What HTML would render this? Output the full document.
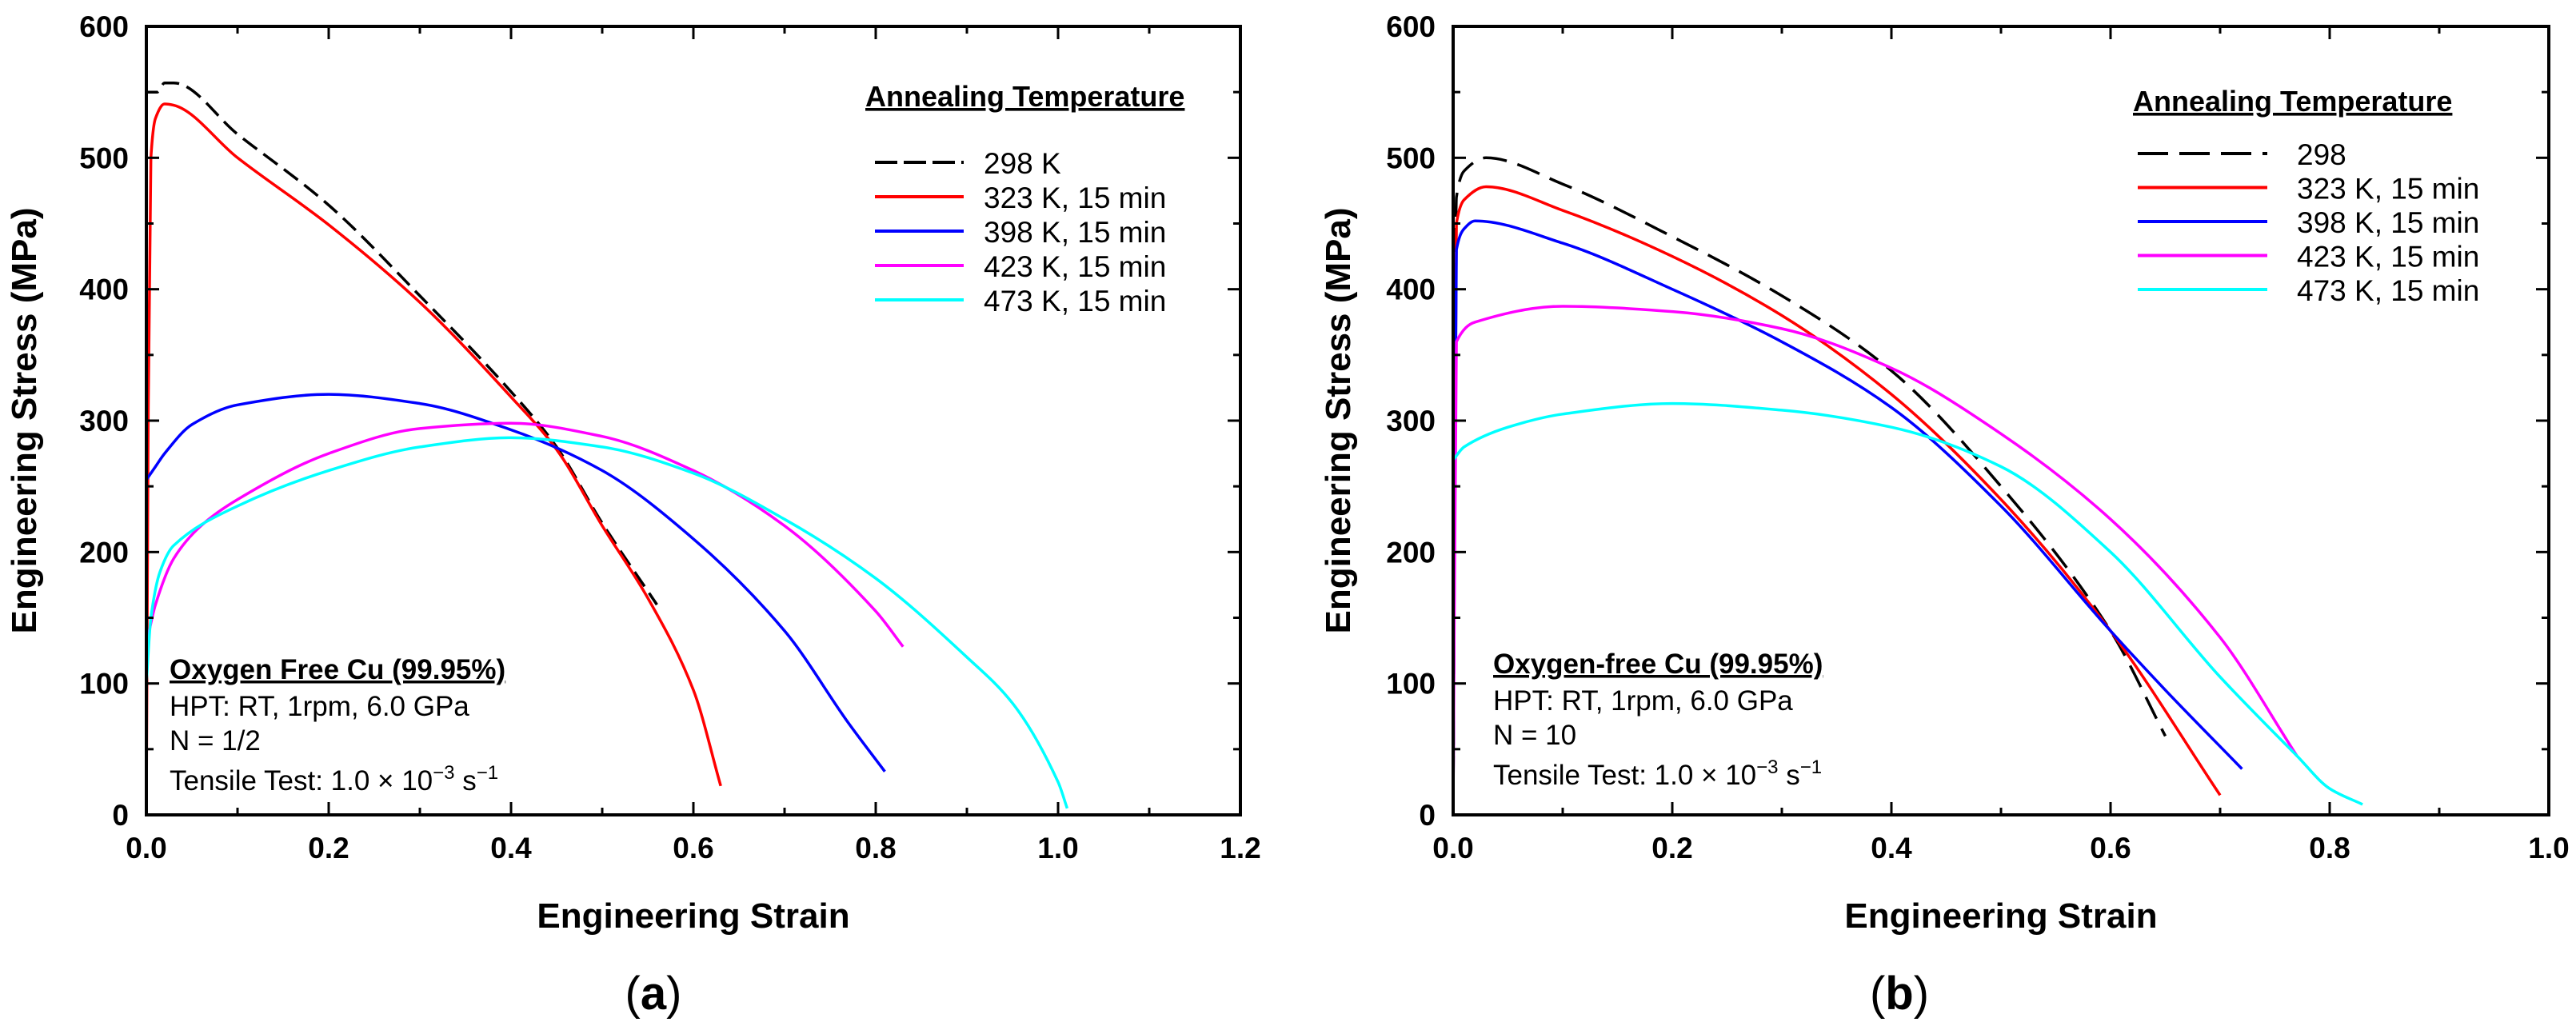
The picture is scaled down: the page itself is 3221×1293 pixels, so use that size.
<!DOCTYPE html>
<html><head><meta charset="utf-8"><style>
html,body{margin:0;padding:0;background:#fff}
svg{display:block}
text{font-family:"Liberation Sans",Arial,sans-serif}
</style></head><body>
<svg id="fig" width="3221" height="1293" viewBox="0 0 3221 1293" xmlns="http://www.w3.org/2000/svg"></svg>
<script>
// ---------- data ----------
const seriesNames = ["298 K", "323 K, 15 min", "398 K, 15 min", "423 K, 15 min", "473 K, 15 min"];
const seriesNamesB = ["298", "323 K, 15 min", "398 K, 15 min", "423 K, 15 min", "473 K, 15 min"];
const seriesColors = ["#000000", "#ff0000", "#0000ff", "#ff00ff", "#00ffff"];
const xTicksA = ["0.0", "0.2", "0.4", "0.6", "0.8", "1.0", "1.2"];
const xTicksB = ["0.0", "0.2", "0.4", "0.6", "0.8", "1.0"];
const yTicks = ["0", "100", "200", "300", "400", "500", "600"];

// panel (a)
const a298x = [0, 0, 0.003, 0.012, 0.02, 0.03, 0.1, 0.2, 0.3, 0.4, 0.45, 0.5, 0.56];
const a298y = [20, 550, 550, 550, 557, 557, 518, 464, 395, 322, 280, 222, 160];
const a323x = [0, 0.002, 0.005, 0.01, 0.02, 0.03, 0.1, 0.2, 0.3, 0.4, 0.45, 0.5, 0.55, 0.6, 0.63];
const a323y = [0, 300, 500, 530, 541, 540, 500, 449, 390, 318, 278, 220, 165, 95, 22];
const a398x = [0, 0, 0.01, 0.02, 0.05, 0.1, 0.2, 0.3, 0.4, 0.5, 0.6, 0.7, 0.77, 0.81];
const a398y = [100, 255, 265, 275, 297, 312, 320, 313, 293, 262, 210, 140, 70, 33];
const a423x = [0, 0.01, 0.03, 0.06, 0.1, 0.2, 0.3, 0.4, 0.5, 0.6, 0.7, 0.8, 0.83];
const a423y = [130, 160, 195, 220, 240, 275, 294, 298, 288, 262, 220, 155, 128];
const a473x = [0, 0.005, 0.015, 0.03, 0.1, 0.2, 0.3, 0.4, 0.5, 0.6, 0.7, 0.8, 0.9, 0.95, 1.0, 1.01];
const a473y = [100, 150, 185, 205, 235, 262, 280, 287, 280, 260, 225, 180, 120, 85, 25, 5];

// panel (b)
const b298x = [0, 0.003, 0.01, 0.03, 0.1, 0.2, 0.3, 0.4, 0.5, 0.6, 0.65];
const b298y = [0, 470, 490, 500, 480, 440, 395, 338, 250, 140, 60];
const b323x = [0, 0.003, 0.01, 0.03, 0.1, 0.2, 0.3, 0.4, 0.5, 0.6, 0.7];
const b323y = [0, 450, 468, 478, 460, 425, 380, 320, 240, 140, 15];
const b398x = [0, 0.003, 0.01, 0.02, 0.1, 0.2, 0.3, 0.4, 0.5, 0.6, 0.65, 0.72];
const b398y = [0, 430, 446, 452, 435, 400, 360, 310, 235, 140, 95, 35];
const b423x = [0, 0.003, 0.02, 0.1, 0.2, 0.3, 0.4, 0.5, 0.6, 0.7, 0.77];
const b423y = [0, 360, 375, 387, 383, 370, 340, 290, 225, 135, 45];
const b473x = [0, 0, 0.01, 0.05, 0.1, 0.2, 0.3, 0.4, 0.5, 0.6, 0.7, 0.77, 0.8, 0.83];
const b473y = [0, 270, 280, 295, 305, 313, 308, 295, 265, 200, 105, 45, 20, 8];

// ---------- drawing ----------
const NS = "http://www.w3.org/2000/svg";
const svg = document.getElementById('fig');
function mk(tag, attrs, parent) {
  const e = document.createElementNS(NS, tag);
  for (const k in attrs) e.setAttribute(k, attrs[k]);
  (parent || svg).appendChild(e);
  return e;
}
// monotone (Fritsch-Carlson) cubic in x; repeated x -> straight line
function monoPath(P) {
  const n = P.length;
  const m = [];
  for (let i = 0; i < n - 1; i++) {
    const dx = P[i + 1][0] - P[i][0];
    m.push(dx > 0.01 ? (P[i + 1][1] - P[i][1]) / dx : null);
  }
  const t = [];
  for (let i = 0; i < n; i++) {
    const a = i > 0 ? m[i - 1] : null, b = i < n - 1 ? m[i] : null;
    if (a === null && b === null) t.push(0);
    else if (a === null) t.push(b);
    else if (b === null) t.push(a);
    else if (a * b <= 0) t.push(0);
    else t.push(2 / (1 / a + 1 / b));
  }
  let d = 'M' + P[0][0].toFixed(1) + ',' + P[0][1].toFixed(1);
  for (let i = 0; i < n - 1; i++) {
    const p1 = P[i], p2 = P[i + 1];
    if (m[i] === null) { d += ' L' + p2[0].toFixed(1) + ',' + p2[1].toFixed(1); continue; }
    const h = (p2[0] - p1[0]) / 3;
    d += ' C' + (p1[0] + h).toFixed(1) + ',' + (p1[1] + h * t[i]).toFixed(1) + ' ' +
         (p2[0] - h).toFixed(1) + ',' + (p2[1] - h * t[i + 1]).toFixed(1) + ' ' +
         p2[0].toFixed(1) + ',' + p2[1].toFixed(1);
  }
  return d;
}

function panel(cfg) {
  const g = mk('g', {});
  
  
  const L = cfg.left, R = cfg.right, T = 33, B = 1019;
  const sx = v => L + (v - cfg.xmin) / (cfg.xmax - cfg.xmin) * (R - L);
  const sy = v => B - (v / 600) * (B - T);

  const clip = mk('clipPath', {id: 'clip-' + cfg.id}, g);
  mk('rect', {x: L, y: T, width: R - L, height: B - T}, clip);
  cfg.series.forEach((s, i) => {
    const P = s.x.map((v, j) => [sx(v), sy(s.y[j])]);
    const pl = mk('path', {d: monoPath(P), fill: 'none', stroke: seriesColors[i], 'stroke-width': 3.5, 'stroke-linejoin': 'round', 'clip-path': 'url(#clip-' + cfg.id + ')'}, g);
    if (i === 0) pl.setAttribute('stroke-dasharray', cfg.dash);
    
    
  });

  const fr = mk('rect', {x: L, y: T, width: R - L, height: B - T, fill: 'none', stroke: '#000', 'stroke-width': 4}, g);
  
  

  const nx = cfg.xTicks.length;
  for (let k = 0; k < (nx - 1) * 2 + 1; k++) {
    const v = cfg.xmin + k * 0.1;
    const x = sx(v);
    const len = k % 2 === 0 ? 16 : 9;
    mk('line', {x1: x, y1: B, x2: x, y2: B - len, stroke: '#000', 'stroke-width': 3}, g);
    mk('line', {x1: x, y1: T, x2: x, y2: T + len, stroke: '#000', 'stroke-width': 3}, g);
  }
  cfg.xTicks.forEach(lab => {
    const t = mk('text', {x: sx(parseFloat(lab)), y: 1073, 'text-anchor': 'middle', 'font-size': 37, 'font-weight': 'bold'}, g);
    t.textContent = lab;
    
    
  });
  for (let k = 0; k <= 12; k++) {
    const y = sy(k * 50);
    const len = k % 2 === 0 ? 16 : 9;
    mk('line', {x1: L, y1: y, x2: L + len, y2: y, stroke: '#000', 'stroke-width': 3}, g);
    mk('line', {x1: R, y1: y, x2: R - len, y2: y, stroke: '#000', 'stroke-width': 3}, g);
  }
  yTicks.forEach(lab => {
    const t = mk('text', {x: L - 22, y: sy(parseFloat(lab)) + 13, 'text-anchor': 'end', 'font-size': 37, 'font-weight': 'bold'}, g);
    t.textContent = lab;
    
    
  });

  const xt = mk('text', {x: (L + R) / 2, y: 1160, 'text-anchor': 'middle', 'font-size': 44, 'font-weight': 'bold'}, g);
  xt.textContent = 'Engineering Strain';
  
  
  const yt = mk('text', {x: 0, y: 0, 'text-anchor': 'middle', 'font-size': 44, 'font-weight': 'bold', transform: 'translate(' + (cfg.ytx) + ',526) rotate(-90)'}, g);
  yt.textContent = 'Engineering Stress (MPa)';
  
  

  const lg = mk('g', {}, g);
  
  
  const lt = mk('text', {x: cfg.lgTitleX, y: cfg.lgTitleY, 'font-size': 36, 'font-weight': 'bold', 'text-decoration': 'underline'}, lg);
  lt.textContent = 'Annealing Temperature';
  
  
  cfg.names.forEach((nm, i) => {
    const y = cfg.lgY0 + i * cfg.lgDy;
    const ln = mk('line', {x1: cfg.lgX1, y1: y, x2: cfg.lgX2, y2: y, stroke: seriesColors[i], 'stroke-width': 4}, lg);
    if (i === 0) ln.setAttribute('stroke-dasharray', cfg.lgDash);
    
    
    const tx = mk('text', {x: cfg.lgTX, y: y + 14, 'font-size': 37}, lg);
    tx.textContent = nm;
    
    
  });

  const an = mk('g', {}, g);
  
  
  const a1 = mk('text', {x: cfg.anX, y: cfg.anY, 'font-size': 35, 'font-weight': 'bold', 'text-decoration': 'underline'}, an);
  a1.textContent = cfg.anTitle;
  const a2 = mk('text', {x: cfg.anX, y: cfg.anY + 46, 'font-size': 35}, an);
  a2.textContent = 'HPT: RT, 1rpm, 6.0 GPa';
  const a3 = mk('text', {x: cfg.anX, y: cfg.anY + 89, 'font-size': 35}, an);
  a3.textContent = cfg.anN;
  const a4 = mk('text', {x: cfg.anX, y: cfg.anY + 139, 'font-size': 35}, an);
  a4.innerHTML = 'Tensile Test: 1.0 × 10<tspan dy="-14" font-size="24">−3</tspan><tspan dy="14"> s</tspan><tspan dy="-14" font-size="24">−1</tspan>';

  const pl = mk('text', {x: cfg.plX, y: 1262, 'text-anchor': 'middle', 'font-size': 58, 'font-family': '"Liberation Serif", serif'}, g);
  pl.innerHTML = '(<tspan font-weight="bold">' + cfg.label + '</tspan>)';
  
  
}

panel({
  id: 'panel-a', left: 183, right: 1551, xmin: 0, xmax: 1.2, xTicks: xTicksA, ytx: 45, dash: '22 10',
  series: [{x: a298x, y: a298y}, {x: a323x, y: a323y}, {x: a398x, y: a398y}, {x: a423x, y: a423y}, {x: a473x, y: a473y}],
  names: seriesNames, lgTitleX: 1082, lgTitleY: 133, lgX1: 1094, lgX2: 1205, lgTX: 1230, lgY0: 203, lgDy: 43, lgDash: '28 8',
  anX: 212, anY: 849, anTitle: 'Oxygen Free Cu (99.95%)', anN: 'N = 1/2', plX: 817, label: 'a'
});
panel({
  id: 'panel-b', left: 1817, right: 3187, xmin: 0, xmax: 1.0, xTicks: xTicksB, ytx: 1688, dash: '30 14',
  series: [{x: b298x, y: b298y}, {x: b323x, y: b323y}, {x: b398x, y: b398y}, {x: b423x, y: b423y}, {x: b473x, y: b473y}],
  names: seriesNamesB, lgTitleX: 2667, lgTitleY: 139, lgX1: 2673, lgX2: 2835, lgTX: 2872, lgY0: 192, lgDy: 42.5, lgDash: '38 14',
  anX: 1867, anY: 842, anTitle: 'Oxygen-free Cu (99.95%)', anN: 'N = 10', plX: 2375, label: 'b'
});
</script>
</body></html>
